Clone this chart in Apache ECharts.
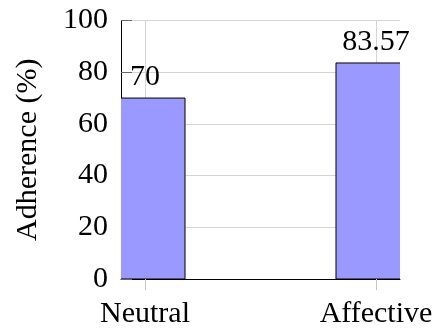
<!DOCTYPE html>
<html>
<head>
<meta charset="utf-8">
<script src="https://cdn.jsdelivr.net/npm/echarts@6/dist/echarts.min.js"></script>
<style>html,body{margin:0;padding:0;background:#fff}#c{width:436px;height:331px}</style>
</head>
<body>
<div id="c"></div>
<script>
const categories = ['Neutral', 'Affective'];
const adherence = [70, 83.57];
const yAxisName = 'Adherence (%)';

const FONT = '"Liberation Serif", "Times New Roman", serif';
const BAR_W = 80;
const chart = echarts.init(document.getElementById('c'), null, {renderer: 'canvas'});
const catPos = categories.map((c, i) => i);
const seriesData = adherence.map((v, i) => [catPos[i], v]);
chart.setOption({
  animation: false,
  backgroundColor: '#fff',
  grid: {left: 121, right: 36, top: 20.5, bottom: 52},
  xAxis: {
    type: 'value',
    min: -0.1039,
    max: 1.1039,
    axisLine: {show: true, onZero: false, lineStyle: {color: '#000', width: 1}},
    axisTick: {show: true, customValues: catPos, length: 11, inside: false, lineStyle: {color: '#c4c4c4', width: 1}},
    axisLabel: {customValues: catPos, formatter: v => categories[Math.round(v)] || '', color: '#000', fontFamily: FONT, fontSize: 30, margin: 20},
    splitLine: {show: true, lineStyle: {color: '#d4d4d4', width: 1}}
  },
  yAxis: {
    type: 'value',
    min: 0, max: 100, interval: 20,
    name: yAxisName,
    nameLocation: 'middle',
    nameGap: 78,
    nameTextStyle: {color: '#000', fontFamily: FONT, fontSize: 30},
    axisLine: {show: true, onZero: false, lineStyle: {color: '#000', width: 1}},
    axisTick: {show: true, inside: true, length: 11, lineStyle: {color: '#666', width: 1}},
    axisLabel: {color: '#000', fontFamily: FONT, fontSize: 30, margin: 13},
    splitLine: {show: true, lineStyle: {color: '#d4d4d4', width: 1}}
  },
  series: [{
    type: 'custom',
    clip: true,
    data: seriesData,
    renderItem: function (params, api) {
      const x = api.value(0), y = api.value(1);
      const top = api.coord([x, y]);
      const base = api.coord([x, 0]);
      return {
        type: 'rect',
        shape: {x: top[0] - BAR_W / 2, y: top[1], width: BAR_W, height: base[1] - top[1]},
        style: {fill: '#9999ff', stroke: '#000', lineWidth: 1}
      };
    },
    z: 2
  }, {
    type: 'scatter',
    data: seriesData,
    symbolSize: 0,
    clip: false,
    silent: true,
    itemStyle: {opacity: 1},
    label: {show: true, position: 'top', distance: 6, color: '#000', opacity: 1, fontFamily: FONT, fontSize: 30, formatter: p => String(p.value[1])},
    z: 3
  }]
});
</script>
</body>
</html>
